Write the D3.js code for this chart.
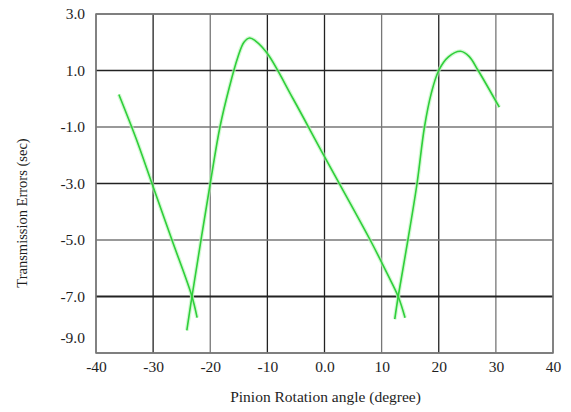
<!DOCTYPE html>
<html>
<head>
<meta charset="utf-8">
<script src="https://cdn.jsdelivr.net/npm/d3@7"></script>
<style>
  body { margin: 0; background: #fff; }
  svg text { font-family: "Liberation Serif", "Times New Roman", serif; fill: #1e1e1e; }
  .tick-label { font-size: 15.5px; }
  .x-title { font-size: 15.5px; }
  .y-title { font-size: 14.5px; }
</style>
</head>
<body>
<div id="chart"></div>
<script>
// tick values and labels
var xTicks = [-40, -30, -20, -10, 0, 10, 20, 30, 40]
var xTickLabels = ['-40', '-30', '-20', '-10', '0.0', '10', '20', '30', '40']
var yTicks = [3, 1, -1, -3, -5, -7, -9]
var yTickLabels = ['3.0', '1.0', '-1.0', '-3.0', '-5.0', '-7.0', '-9.0']

// transmission error curves [angle, error]
var mesh1Fall = [[-36.0, 0.15], [-33.0, -1.4], [-30.2, -3.0], [-26.7, -5.0], [-23.2, -7.0], [-22.3, -7.75]]
var mesh2 = [[-24.1, -8.2], [-23.2, -7.0], [-20.0, -3.0], [-18.3, -1.0], [-16.6, 0.45],
  [-15.2, 1.45], [-14.1, 2.0], [-13.1, 2.15], [-12.1, 2.05], [-10.0, 1.6],
  [-5.5, 0.0], [0.0, -2.05], [8.0, -5.0], [11.0, -6.2], [12.9, -7.0], [14.1, -7.75]]
var mesh3 = [[12.3, -7.8], [12.9, -7.0], [14.6, -5.0], [16.2, -3.0], [17.5, -1.0], [18.7, 0.2],
  [20.0, 1.0], [21.7, 1.48], [23.8, 1.68], [25.3, 1.5], [26.9, 1.0], [30.6, -0.3]]

var curves = [mesh1Fall, mesh2, mesh3]

var width = 571
var height = 412
var margin = { top: 14, right: 18, bottom: 59, left: 96 }

var svg = d3.select('#chart')
  .append('svg')
  .attr('width', width)
  .attr('height', height)

var x = d3.scaleLinear()
  .domain([-40, 40])
  .range([margin.left, width - margin.right])
var y = d3.scaleLinear()
  .domain([3, -9])
  .range([margin.top, height - margin.bottom])

// grid - alternate dark / grey like the original scan
var darkX = { '-30': 1, '-10': 1, '0': 1, '20': 1 }
var darkY = { '1': 1, '-3': 1, '-7': 1 }

svg.append('g')
  .selectAll('line')
  .data(xTicks)
  .enter().append('line')
  .attr('x1', function (d) { return x(d) })
  .attr('x2', function (d) { return x(d) })
  .attr('y1', y.range()[0])
  .attr('y2', y.range()[1])
  .attr('stroke', function (d) { return darkX[d] ? '#222' : '#777' })
  .attr('stroke-width', 1.3)

svg.append('g')
  .selectAll('line')
  .data(yTicks)
  .enter().append('line')
  .attr('x1', x.range()[0])
  .attr('x2', x.range()[1])
  .attr('y1', function (d) { return y(d) })
  .attr('y2', function (d) { return y(d) })
  .attr('stroke', function (d) { return darkY[d] ? '#222' : '#777' })
  .attr('stroke-width', function (d) { return d === -7 ? 2 : 1.3 })

// frame
svg.append('rect')
  .attr('x', x(-40))
  .attr('y', y(3))
  .attr('width', x(40) - x(-40))
  .attr('height', y(-9) - y(3))
  .attr('fill', 'none')
  .attr('stroke', '#777')
  .attr('stroke-width', 1.5)

// axes (labels only)
var xAxis = d3.axisBottom(x)
  .tickValues(xTicks)
  .tickSize(0)
  .tickPadding(8)
  .tickFormat(function (d, i) { return xTickLabels[i] })

var yAxis = d3.axisLeft(y)
  .tickValues(yTicks)
  .tickSize(0)
  .tickPadding(11)
  .tickFormat(function (d, i) { return yTickLabels[i] })

svg.append('g')
  .attr('transform', 'translate(0,' + y(-9) + ')')
  .call(xAxis)
  .call(function (g) { g.select('.domain').remove() })
  .selectAll('text')
  .attr('class', 'tick-label')
  .attr('font-size', null)
  .attr('font-family', null)

svg.append('g')
  .attr('transform', 'translate(' + x(-40) + ',0)')
  .call(yAxis)
  .call(function (g) { g.select('.domain').remove() })
  .selectAll('text')
  .attr('class', 'tick-label')
  .attr('font-size', null)
  .attr('font-family', null)
  .attr('dy', function (d) { return d === -9 ? '-0.7em' : '0.32em' })

// curves
var line = d3.line()
  .x(function (d) { return x(d[0]) })
  .y(function (d) { return y(d[1]) })
  .curve(d3.curveCatmullRom.alpha(0.5))

var curveGroup = svg.append('g')
curveGroup.selectAll('path.glow')
  .data(curves)
  .enter().append('path')
  .attr('d', line)
  .attr('fill', 'none')
  .attr('stroke', '#b8f5b8')
  .attr('stroke-width', 4)
  .attr('opacity', 0.6)
curveGroup.selectAll('path.main')
  .data(curves)
  .enter().append('path')
  .attr('d', line)
  .attr('fill', 'none')
  .attr('stroke', '#2fcf3a')
  .attr('stroke-width', 1.6)

// titles
svg.append('text')
  .attr('class', 'x-title')
  .attr('x', (x(-40) + x(40)) / 2 + 1)
  .attr('y', 402)
  .attr('text-anchor', 'middle')
  .text('Pinion Rotation angle (degree)')

svg.append('text')
  .attr('class', 'y-title')
  .attr('transform', 'translate(27,213) rotate(-90)')
  .attr('text-anchor', 'middle')
  .text('Transmission Errors (sec)')
</script>
</body>
</html>
